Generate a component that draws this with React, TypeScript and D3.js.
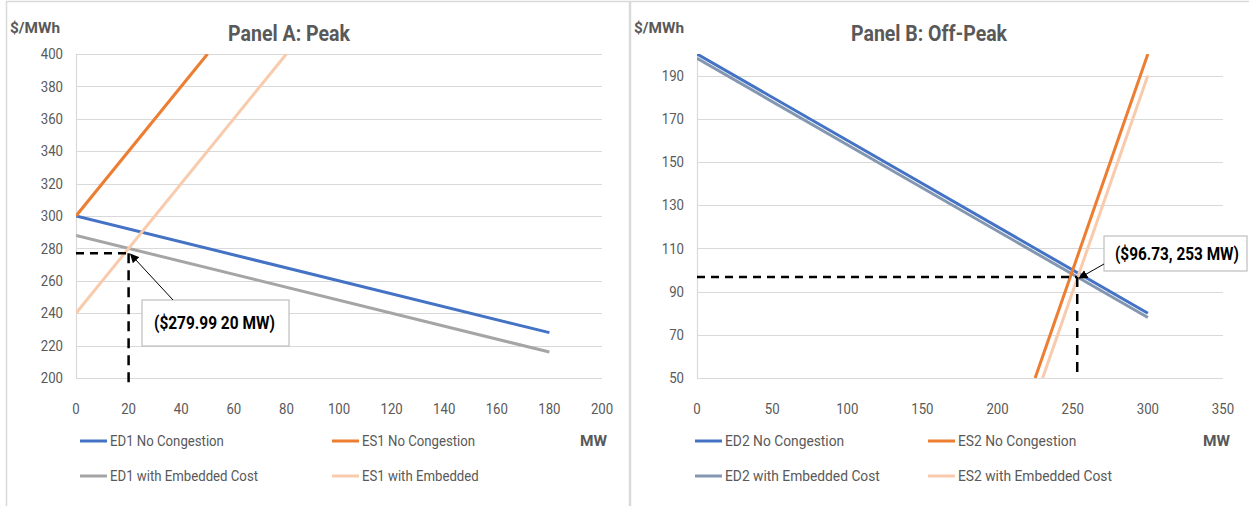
import React from "react";
import * as d3 from "d3";

// ---------- DATA ----------
const xTicksA = [0, 20, 40, 60, 80, 100, 120, 140, 160, 180, 200];
const yTicksA = [200, 220, 240, 260, 280, 300, 320, 340, 360, 380, 400];
const xTicksB = [0, 50, 100, 150, 200, 250, 300, 350];
const yTicksB = [50, 70, 90, 110, 130, 150, 170, 190];

const ed1NoCongQ = [0, 180];
const ed1NoCongP = [300, 228];
const ed1EmbQ = [0, 180];
const ed1EmbP = [288, 216];
const es1NoCongQ = [0, 50];
const es1NoCongP = [300, 400];
const es1EmbQ = [0, 80];
const es1EmbP = [240, 400];

const ed2NoCongQ = [0, 300];
const ed2NoCongP = [200, 80];
const ed2EmbQ = [0, 300];
const ed2EmbP = [198, 78];
const es2NoCongQ = [225, 300];
const es2NoCongP = [50, 200];
const es2EmbQ = [230, 300];
const es2EmbP = [50, 190];

const eqA = { q: 20, p: 277, label: "($279.99 20 MW)" };
const eqB = { q: 253, p: 96.73, label: "($96.73, 253 MW)" };

const legendA = ["ED1 No Congestion", "ES1 No Congestion", "ED1 with Embedded Cost", "ES1 with Embedded"];
const legendB = ["ED2 No Congestion", "ES2 No Congestion", "ED2 with Embedded Cost", "ES2 with Embedded Cost"];

// ---------- STYLE ----------
const FONT = "'Liberation Sans Narrow', Roboto, sans-serif";
const TXT = "#595959";
const GRID = "#D9D9D9";
const BLUE = "#4472C4";
const ORANGE = "#ED7D31";
const GRAY = "#A5A5A5";
const PEACH = "#F8CBAD";
const BLUEGRAY = "#8497B0";

type Series = { q: number[]; p: number[]; color: string; name: string };

type PanelProps = {
  title: string;
  titleX: number;
  titleW: number;
  frameX: number;
  frameW: number;
  left: number;
  right: number;
  top: number;
  bottom: number;
  xDomain: [number, number];
  yDomain: [number, number];
  xTicks: number[];
  yTicks: number[];
  series: Series[];
  drawOrder: number[];
  eq: { q: number; p: number; label: string };
  vDashEnd: number;
  box: { x0: number; x1: number; y0: number; y1: number };
  labelX: number;
  labelW: number;
  arrowFrom: [number, number];
  legendX: [number, number];
  legendScale: number;
  mwX: number;
  unitX: number;
};

function Panel(props: PanelProps) {
  const x = d3.scaleLinear().domain(props.xDomain).range([props.left, props.right]);
  const y = d3.scaleLinear().domain(props.yDomain).range([props.bottom, props.top]);
  const line = d3
    .line<[number, number]>()
    .x((d) => x(d[0]))
    .y((d) => y(d[1]));
  const ex = x(props.eq.q);
  const ey = y(props.eq.p);
  const markerId = "arr" + props.frameX;
  const legendRows = [441, 476];
  return (
    <g>
      <defs>
        <marker id={markerId} viewBox="0 0 10 10" refX="9" refY="5" markerWidth="9" markerHeight="9" orient="auto-start-reverse" markerUnits="userSpaceOnUse">
          <path d="M0,0 L10,5 L0,10 z" fill="#000" />
        </marker>
        <clipPath id={"clip" + props.frameX}>
          <rect x={props.left} y={props.top} width={props.right - props.left} height={props.bottom - props.top} />
        </clipPath>
      </defs>
      <rect x={props.frameX + 0.5} y={1.5} width={props.frameW} height={520} fill="#fff" stroke={GRID} strokeWidth={1.5} />
      <text x={props.titleX} y={41} textAnchor="middle" fontFamily={FONT} fontWeight="bold" fontSize={22} fill={TXT} textLength={props.titleW} lengthAdjust="spacingAndGlyphs">
        {props.title}
      </text>
      <text x={props.unitX} y={33} fontFamily={FONT} fontWeight="bold" fontSize={15} fill={TXT} textLength={50} lengthAdjust="spacingAndGlyphs">
        $/MWh
      </text>
      {props.yTicks.map((t) => (
        <g key={"y" + t}>
          <line x1={props.left} x2={props.right} y1={Math.round(y(t)) + 0.5} y2={Math.round(y(t)) + 0.5} stroke={GRID} strokeWidth={1.2} />
          <text x={props.left - 13} y={y(t)} dy="0.35em" textAnchor="end" fontFamily={FONT} fontSize={15} fill={TXT} transform={`translate(${props.left - 13},0) scale(0.88,1) translate(${-(props.left - 13)},0)`}>
            {t}
          </text>
        </g>
      ))}
      <line x1={props.left + 0.5} x2={props.left + 0.5} y1={props.top} y2={props.bottom} stroke={GRID} strokeWidth={1.2} />
      <line x1={props.left} x2={props.right} y1={props.bottom + 0.5} y2={props.bottom + 0.5} stroke={GRID} strokeWidth={1.2} />
      {props.xTicks.map((t) => (
        <text key={"x" + t} x={x(t)} y={414} textAnchor="middle" fontFamily={FONT} fontSize={15} fill={TXT} transform={`translate(${x(t)},0) scale(0.88,1) translate(${-x(t)},0)`}>
          {t}
        </text>
      ))}
      <g clipPath={`url(#clip${props.frameX})`}>
        {props.drawOrder.map((i) => {
          const s = props.series[i];
          const pts = s.q.map((q, k) => [q, s.p[k]] as [number, number]);
          return <path key={s.name} d={line(pts) || ""} fill="none" stroke={s.color} strokeWidth={3} />;
        })}
      </g>
      <line x1={props.left} x2={ex} y1={ey} y2={ey} stroke="#000" strokeWidth={2.5} strokeDasharray="8 6" />
      <line x1={ex} x2={ex} y1={ey} y2={props.vDashEnd} stroke="#000" strokeWidth={2.5} strokeDasharray="10 7" />
      <rect x={props.box.x0} y={props.box.y0} width={props.box.x1 - props.box.x0} height={props.box.y1 - props.box.y0} fill="#fff" stroke="#BFBFBF" strokeWidth={1.2} />
      <text x={props.labelX} y={(props.box.y0 + props.box.y1) / 2} dy="0.35em" fontFamily={FONT} fontWeight="bold" fontSize={18} fill="#000" textLength={props.labelW} lengthAdjust="spacingAndGlyphs">
        {props.eq.label}
      </text>
      <line x1={props.arrowFrom[0]} y1={props.arrowFrom[1]} x2={ex + 2} y2={ey + 1} stroke="#000" strokeWidth={1} markerEnd={`url(#${markerId})`} />
      {props.series.map((s, i) => {
        const col = i % 2;
        const row = Math.floor(i / 2);
        const lx = props.legendX[col];
        const ly = legendRows[row];
        return (
          <g key={"lg" + i}>
            <line x1={lx} x2={lx + 27} y1={ly} y2={ly} stroke={s.color} strokeWidth={3} />
            <text x={lx + 30} y={ly} dy="0.35em" fontFamily={FONT} fontSize={15} fill={TXT} transform={`translate(${lx + 30},0) scale(${props.legendScale},1) translate(${-(lx + 30)},0)`}>
              {s.name}
            </text>
          </g>
        );
      })}
      <text x={props.mwX} y={441} dy="0.35em" fontFamily={FONT} fontWeight="bold" fontSize={15} fill={TXT} textLength={27} lengthAdjust="spacingAndGlyphs">
        MW
      </text>
    </g>
  );
}

export default function App() {
  const seriesA: Series[] = [
    { q: ed1NoCongQ, p: ed1NoCongP, color: BLUE, name: legendA[0] },
    { q: es1NoCongQ, p: es1NoCongP, color: ORANGE, name: legendA[1] },
    { q: ed1EmbQ, p: ed1EmbP, color: GRAY, name: legendA[2] },
    { q: es1EmbQ, p: es1EmbP, color: PEACH, name: legendA[3] },
  ];
  const seriesB: Series[] = [
    { q: ed2NoCongQ, p: ed2NoCongP, color: BLUE, name: legendB[0] },
    { q: es2NoCongQ, p: es2NoCongP, color: ORANGE, name: legendB[1] },
    { q: ed2EmbQ, p: ed2EmbP, color: BLUEGRAY, name: legendB[2] },
    { q: es2EmbQ, p: es2EmbP, color: PEACH, name: legendB[3] },
  ];
  return (
    <svg width={1249} height={506} style={{ position: "absolute", left: 0, top: 0, background: "#fff" }}>
      <Panel
        title="Panel A: Peak"
        titleX={289}
        titleW={122}
        frameX={6}
        frameW={623}
        left={76}
        right={602}
        top={54}
        bottom={378}
        xDomain={[0, 200]}
        yDomain={[200, 400]}
        xTicks={xTicksA}
        yTicks={yTicksA}
        series={seriesA}
        drawOrder={[0, 1, 2, 3]}
        eq={eqA}
        vDashEnd={386}
        box={{ x0: 142, x1: 289, y0: 300, y1: 346 }}
        labelX={154}
        labelW={121}
        arrowFrom={[173, 300]}
        legendX={[80, 332]}
        legendScale={0.88}
        mwX={580}
        unitX={10}
      />
      <Panel
        title="Panel B: Off-Peak"
        titleX={929}
        titleW={156}
        frameX={630}
        frameW={640}
        left={697}
        right={1223}
        top={54}
        bottom={378}
        xDomain={[0, 350]}
        yDomain={[50, 200]}
        xTicks={xTicksB}
        yTicks={yTicksB}
        series={seriesB}
        drawOrder={[2, 0, 1, 3]}
        eq={eqB}
        vDashEnd={378}
        box={{ x0: 1104, x1: 1247, y0: 236, y1: 271 }}
        labelX={1115}
        labelW={124}
        arrowFrom={[1104, 264]}
        legendX={[695, 928]}
        legendScale={0.92}
        mwX={1203}
        unitX={634}
      />
    </svg>
  );
}
